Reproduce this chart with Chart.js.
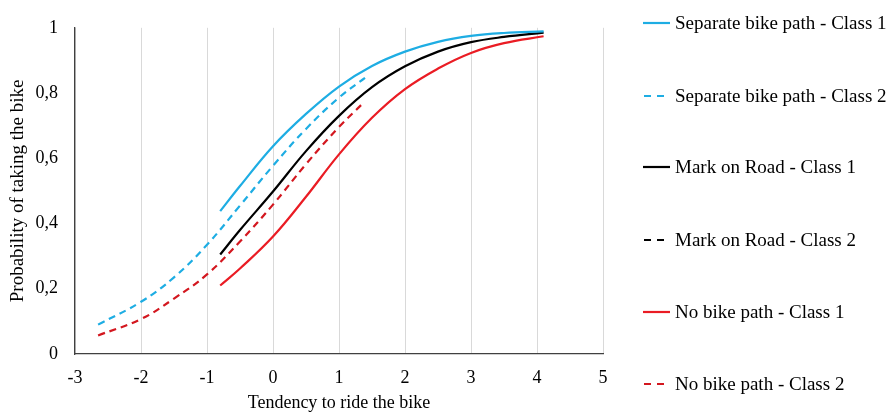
<!DOCTYPE html>
<html>
<head>
<meta charset="utf-8">
<script src="https://cdn.jsdelivr.net/npm/chart.js@4/dist/chart.umd.min.js"></script>
<style>
  html, body { margin: 0; padding: 0; background: #fff; }
  #wrap { position: relative; width: 888px; height: 412px; }
  #legend { position: absolute; left: 643px; top: 0; width: 245px; height: 412px;
            font-family: "Liberation Serif", "Times New Roman", serif; font-size: 19px; color: #000; }
  .item { position: absolute; left: 0; height: 22px; display: flex; align-items: center; white-space: nowrap; }
  .item svg { margin-right: 4px; }
</style>
</head>
<body>
<div id="wrap">
  <canvas id="myChart" width="888" height="412"></canvas>
  <div id="legend"></div>
</div>
<script>
// x values for the curves
const class1X = [-0.8, -0.5, 0, 0.5, 1, 1.5, 2, 2.5, 3, 3.5, 4.1];
const sepClass2X = [-2.65, -2, -1.5, -1, -0.5, 0, 0.5, 1, 1.45];
const markClass2X = [];
const noClass2X = [-2.65, -2, -1.5, -1, -0.5, 0, 0.5, 1, 1.35];

// probabilities
const sepClass1 = [0.438, 0.515, 0.637, 0.736, 0.82, 0.883, 0.927, 0.957, 0.975, 0.984, 0.989];
const sepClass2 = [0.09, 0.16, 0.235, 0.335, 0.455, 0.577, 0.69, 0.786, 0.855];
const markClass1 = [0.305, 0.38, 0.498, 0.622, 0.73, 0.818, 0.882, 0.927, 0.956, 0.972, 0.985];
const markClass2 = [];
const noClass1 = [0.21, 0.262, 0.36, 0.482, 0.612, 0.724, 0.812, 0.875, 0.923, 0.953, 0.974];
const noClass2 = [0.057, 0.107, 0.17, 0.244, 0.345, 0.458, 0.582, 0.696, 0.766];

const labels = [
  'Separate bike path - Class 1',
  'Separate bike path - Class 2',
  'Mark on Road - Class 1',
  'Mark on Road - Class 2',
  'No bike path - Class 1',
  'No bike path - Class 2'
];
const xTicks = [-3, -2, -1, 0, 1, 2, 3, 4, 5];
const yTicks = [0, 0.2, 0.4, 0.6, 0.8, 1];

const BLUE = '#1eade3';
const BLACK = '#000000';
const RED = '#ea1c24';
const RED_D = '#d3171f';
const DASH = [7, 5];

function pts(xs, ys) {
  return xs.map((x, i) => ({ x: x, y: ys[i] }));
}

const series = [
  { data: pts(class1X, sepClass1), color: BLUE, dash: [] },
  { data: pts(sepClass2X, sepClass2), color: BLUE, dash: DASH },
  { data: pts(class1X, markClass1), color: BLACK, dash: [] },
  { data: pts(markClass2X, markClass2), color: BLACK, dash: DASH },
  { data: pts(class1X, noClass1), color: RED, dash: [] },
  { data: pts(noClass2X, noClass2), color: RED_D, dash: DASH }
];

const family = '"Liberation Serif", "Times New Roman", serif';
const tickFont = { family: family, size: 18 };
Chart.defaults.font.family = family;
Chart.defaults.color = '#000';

const ctx = document.getElementById('myChart').getContext('2d');
const myChart = new Chart(ctx, {
  type: 'line',
  data: {
    datasets: series.map((s, i) => ({
      label: labels[i],
      data: s.data,
      borderColor: s.color,
      backgroundColor: s.color,
      borderDash: s.dash,
      borderWidth: 2.2,
      pointRadius: 0,
      fill: false,
      tension: 0.4
    }))
  },
  options: {
    responsive: false,
    animation: false,
    layout: { padding: { left: 0, right: 285, top: 18, bottom: 0 } },
    plugins: { legend: { display: false }, tooltip: { enabled: false } },
    scales: {
      x: {
        type: 'linear',
        min: -3, max: 5,
        afterBuildTicks: (scale) => { scale.ticks = xTicks.map(v => ({ value: v })); },
        afterFit: (scale) => { scale.height = 58; },
        ticks: { font: tickFont, padding: 13, color: '#000' },
        grid: { color: '#d9d9d9', drawTicks: false, lineWidth: 1 },
        border: { color: '#404040', width: 1.3 },
        title: { display: true, text: 'Tendency to ride the bike', font: { family: family, size: 18 }, color: '#000', padding: { top: 0, bottom: -2 } }
      },
      y: {
        min: 0, max: 1,
        afterBuildTicks: (scale) => { scale.ticks = yTicks.map(v => ({ value: v })); },
        afterFit: (scale) => { scale.width = 75; },
        ticks: {
          font: tickFont, padding: 17, color: '#000',
          callback: (v) => String(Math.round(v * 10) / 10).replace('.', ',')
        },
        grid: { display: false, drawTicks: false },
        border: { color: '#404040', width: 1.3 },
        title: { display: true, text: 'Probability of taking the bike', font: { family: family, size: 19 }, color: '#000', padding: { top: 7, bottom: 0 } }
      }
    }
  }
});

// legend on the right, built as html
const legend = document.getElementById('legend');
const rowCenters = [23, 96, 167, 239.5, 312, 384];
series.forEach((s, i) => {
  const row = document.createElement('div');
  row.className = 'item';
  row.style.top = (rowCenters[i] - 11) + 'px';
  const dash = s.dash.length ? ' stroke-dasharray="7 6" stroke-dashoffset="-1"' : '';
  row.innerHTML = '<svg width="28" height="4"><line x1="0" y1="2" x2="27" y2="2" stroke="' + s.color +
    '" stroke-width="2.2"' + dash + '/></svg><span>' + labels[i] + '</span>';
  legend.appendChild(row);
});
</script>
</body>
</html>
